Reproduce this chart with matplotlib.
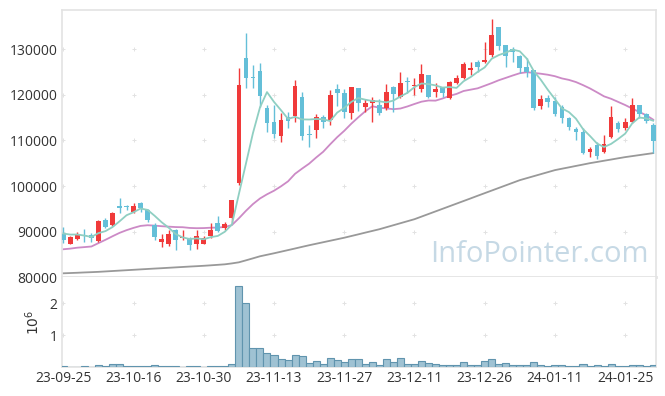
import matplotlib
matplotlib.use("Agg")
import matplotlib.pyplot as plt
import numpy as np
import pandas as pd

plt.rcParams["font.family"] = ["Open Sans", "DejaVu Sans"]

# OHLC per trading day, 2023-09-25 .. 2024-01-31 (85 sessions)
opens = [89400, 87400, 88500, 89380, 89300, 87970, 92670, 91570, 95600, 95600,
         94340, 96400, 94700, 91570, 87750, 87250, 90300, 88560, 88500, 87250,
         87400, 89000, 91800, 90910, 92900, 100580, 128160, 123860, 125240, 117050,
         113970, 110960, 115220, 115360, 119600, 111470, 112280, 115070, 114480, 121290,
         120490, 116080, 121440, 117400, 118280, 117700, 117060, 121800, 119460, 123000,
         121940, 121370, 124360, 120690, 121660, 119240, 122670, 123700, 125460, 127280,
         127140, 128750, 134830, 130950, 130000, 128530, 126050, 125460, 117550, 119240,
         118650, 117400, 114990, 112500, 111910, 107520, 108990, 107520, 110680, 113750,
         112650, 114110, 117770, 115730, 113380]
highs = [91000, 89000, 89950, 90700, 89800, 92500, 93100, 94340, 97280, 95800,
         96300, 96500, 95080, 91800, 89600, 90300, 90540, 90300, 88850, 90300,
         89000, 91920, 93400, 92150, 97060, 125830, 133500, 126530, 126930, 117770,
         117770, 115950, 116300, 123260, 120690, 113380, 115800, 115580, 121070, 122310,
         121220, 121800, 121580, 119020, 119600, 119090, 122310, 121940, 124950, 123850,
         123770, 126780, 124360, 122530, 121800, 122970, 124360, 127280, 127280, 127650,
         131540, 136590, 134830, 130950, 130570, 128750, 128020, 125460, 119970, 119970,
         119460, 117770, 115070, 113010, 112650, 108610, 109710, 111180, 117550, 114330,
         114850, 119240, 117770, 115950, 113890]
lows = [87500, 87250, 88280, 87750, 87800, 87750, 90900, 91270, 94000, 94700,
        94000, 94400, 92150, 88130, 86650, 86900, 85930, 88130, 85930, 86300,
        87250, 88700, 89950, 90300, 92150, 100200, 121440, 121440, 117400, 111900,
        110450, 109710, 112650, 114100, 110090, 108610, 110450, 112650, 113380, 117620,
        114850, 114630, 116520, 116300, 113970, 115580, 116670, 116300, 119240, 120340,
        119970, 120690, 119240, 119460, 119460, 119020, 122380, 123410, 124360, 125090,
        126930, 128380, 129850, 126180, 127280, 124730, 124000, 116670, 116820, 117400,
        115360, 113750, 112280, 110090, 107010, 106420, 105850, 107160, 110450, 111910,
        112280, 113750, 114850, 113890, 107300]
closes = [88100, 88850, 89600, 89000, 88700, 92300, 91050, 94000, 95300, 95400,
          95600, 95100, 92500, 88850, 88350, 89600, 88130, 88850, 87030, 89070,
          88630, 90470, 90170, 91640, 96900, 122160, 123630, 123700, 119810, 113750,
          111400, 114480, 114260, 121940, 111030, 111250, 115070, 113970, 119960, 120340,
          116300, 121660, 118280, 118140, 118870, 115950, 120560, 120190, 122670, 122900,
          122160, 124580, 119460, 121290, 120490, 122760, 123630, 126780, 125830, 126180,
          127650, 133140, 130790, 128530, 129480, 125830, 125090, 117050, 119020, 118500,
          115730, 114850, 113010, 111780, 107160, 108110, 106570, 109200, 115200, 112500,
          113970, 117770, 115730, 114260, 109930]
# closes of the 19 sessions before the window (seed for the moving averages)
prior_closes = [86000, 85500, 86500, 86000, 77500, 76500, 78500, 80500, 83500, 85500,
                86500, 89500, 90500, 91000, 91500, 90000, 89500, 90200, 90200]
volumes = [0.02, 0.005, 0.005, 0.02, 0.005, 0.05, 0.02, 0.08, 0.08, 0.02,
           0.02, 0.02, 0.02, 0.05, 0.02, 0.02, 0.02, 0.005, 0.02, 0.02,
           0.005, 0.02, 0.02, 0.02, 0.08, 2.55, 2.0, 0.58, 0.58, 0.42,
           0.36, 0.23, 0.20, 0.36, 0.33, 0.12, 0.18, 0.08, 0.29, 0.20,
           0.15, 0.23, 0.23, 0.07, 0.14, 0.04, 0.23, 0.14, 0.26, 0.07,
           0.07, 0.17, 0.11, 0.07, 0.04, 0.04, 0.04, 0.14, 0.04, 0.04,
           0.17, 0.23, 0.07, 0.11, 0.04, 0.04, 0.04, 0.14, 0.04, 0.01,
           0.04, 0.04, 0.01, 0.01, 0.07, 0.01, 0.04, 0.01, 0.07, 0.01,
           0.01, 0.04, 0.04, 0.01, 0.04]  # millions of shares
# long moving average
ma_long = [80880, 80940, 81000, 81070, 81130, 81200, 81290, 81380, 81470, 81560,
           81650, 81740, 81830, 81920, 82000, 82090, 82180, 82270, 82360, 82440,
           82530, 82630, 82740, 82850, 83050, 83290, 83720, 84160, 84610, 84940,
           85270, 85620, 85970, 86320, 86680, 87030, 87360, 87690, 88020, 88350,
           88680, 89050, 89420, 89800, 90170, 90540, 90980, 91420, 91860, 92300,
           92740, 93310, 93880, 94450, 95020, 95590, 96160, 96730, 97300, 97880,
           98450, 99020, 99590, 100160, 100730, 101300, 101740, 102180, 102620, 103060,
           103500, 103810, 104110, 104420, 104720, 105030, 105290, 105560, 105820, 106090,
           106350, 106570, 106790, 107010, 107230]
tick_pos = [0, 10, 20, 30, 40, 50, 60, 70, 80]
tick_labels = ["23-09-25", "23-10-16", "23-10-30", "23-11-13", "23-11-27",
               "23-12-11", "23-12-26", "24-01-11", "24-01-25"]

UP = "#f03a3a"
DOWN = "#64bfd8"
GRID = "#e2e2e2"
FRAME = "#e3e3e3"
TEXT = "#333333"

n = len(closes)
x = np.arange(n)
all_closes = pd.Series(prior_closes + closes, dtype=float)
ma5 = all_closes.rolling(5).mean().to_numpy()[len(prior_closes):]
ma20 = all_closes.rolling(20).mean().to_numpy()[len(prior_closes):]

fig = plt.figure(figsize=(6.65, 3.96), dpi=100)
ax = fig.add_axes([0.0928, 0.2997, 0.8937, 0.675])
axv = fig.add_axes([0.0928, 0.074, 0.8937, 0.2257], sharex=ax)

o = np.array(opens)
c = np.array(closes)
up = c >= o
colors = np.where(up, UP, DOWN)
ax.vlines(x, lows, highs, colors=colors, linewidth=1, zorder=3)
ax.bar(x, np.abs(c - o), bottom=np.minimum(o, c), width=0.68,
       color=colors, linewidth=0, zorder=4)

ax.plot(x, ma5, color="#8fcfc2", lw=1.3, zorder=5)
ax.plot(x, ma20, color="#cc8ac6", lw=1.3, zorder=2)
ax.plot(x, ma_long, color="#999999", lw=1.3, zorder=2)

ax.set_xlim(-0.23, 84.4)
ax.set_ylim(80000, 138600)
yt = [80000, 90000, 100000, 110000, 120000, 130000]
ax.set_yticks(yt)
ax.set_yticklabels([str(v) for v in yt])
gx, gy = np.meshgrid(tick_pos, yt[1:])
ax.scatter(gx.ravel(), gy.ravel(), marker="+", s=10, color=GRID, lw=0.7, zorder=1)

ax.text(0.988, 0.03, "InfoPointer.com", transform=ax.transAxes, ha="right",
        va="bottom", fontsize=21, color="#c6d9e5", zorder=6)

axv.bar(x, np.array(volumes) * 1e6, width=1.0, color="#9fc2d3",
        edgecolor="#6094ae", linewidth=0.8, zorder=3)
axv.set_ylim(0, 2.82e6)
axv.set_yticks([1e6, 2e6])
axv.set_yticklabels(["1", "2"])
vx, vy = np.meshgrid(tick_pos, [1e6, 2e6])
axv.scatter(vx.ravel(), vy.ravel(), marker="+", s=10, color=GRID, lw=0.7, zorder=1)
axv.text(-0.047, 0.5, r"$10^6$", transform=axv.transAxes, rotation=90,
         ha="center", va="center", fontsize=10, color=TEXT)
axv.set_xticks(tick_pos)
axv.set_xticklabels(tick_labels)

for a in (ax, axv):
    for s in a.spines.values():
        s.set_color(FRAME)
        s.set_linewidth(1.2)
    a.tick_params(length=0, labelsize=10, colors=TEXT, pad=3)
ax.spines["bottom"].set_linewidth(2)
axv.spines["top"].set_visible(False)
ax.tick_params(axis="x", labelbottom=False)

fig.savefig("out.png", dpi=100)
